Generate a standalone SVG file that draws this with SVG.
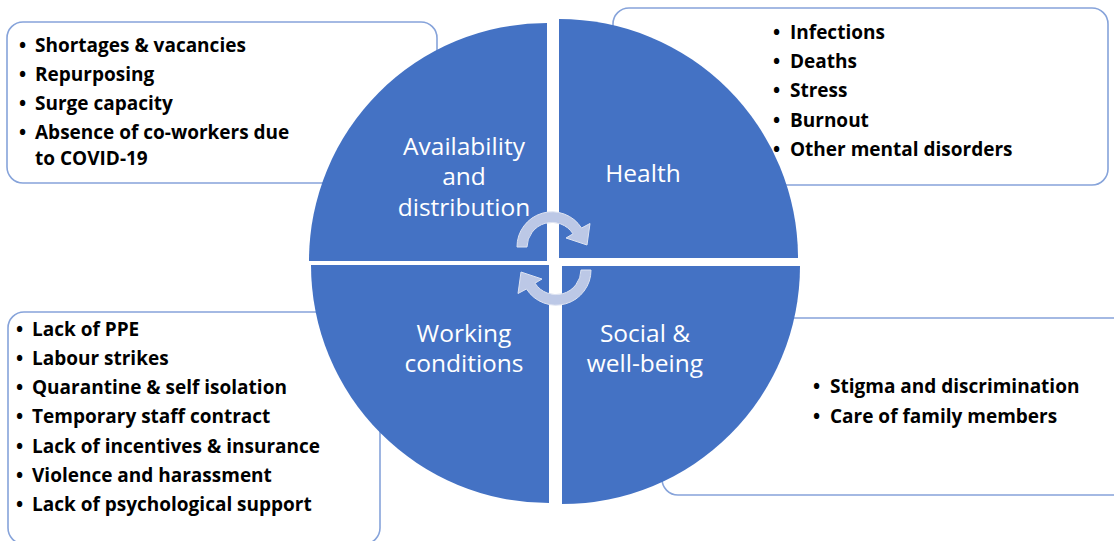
<svg xmlns="http://www.w3.org/2000/svg" width="1114" height="541" viewBox="0 0 1114 541">
<style>
.box{fill:#ffffff;stroke:#86a3da;stroke-width:1.6}
.q{fill:#4472c4}
.lbl{font-family:"Open Sans","Noto Sans",sans-serif;font-size:24.5px;fill:#ffffff;text-anchor:middle}
.it{font-family:"Open Sans","Noto Sans",sans-serif;font-size:19px;font-weight:bold;fill:#000000}
.cyc{fill:#bcc8e6;stroke:#dde3f2;stroke-width:1}
</style>
<rect width="1114" height="541" fill="#ffffff"/>
<g id="box-availability">
<rect class="box" x="7" y="22" width="430" height="161" rx="16"/>
<text class="it" x="19" y="52">•</text><text class="it" x="35" y="52">Shortages &amp; vacancies</text>
<text class="it" x="19" y="81">•</text><text class="it" x="35" y="81">Repurposing</text>
<text class="it" x="19" y="110">•</text><text class="it" x="35" y="110">Surge capacity</text>
<text class="it" x="19" y="139">•</text><text class="it" x="35" y="139">Absence of co-workers due</text>
<text class="it" x="35" y="165">to COVID-19</text>
</g>
<g id="box-health">
<rect class="box" x="613" y="8" width="495" height="177" rx="16"/>
</g>
<g id="box-working">
<rect class="box" x="8" y="312" width="372" height="232" rx="16"/>
</g>
<g id="box-social">
<rect class="box" x="662" y="318" width="470" height="177" rx="16"/>
</g>
<g id="q-availability">
<path class="q" d="M547,261 L309,261 A238,238 0 0 1 547,23 Z"/>
<text class="lbl" x="464" y="155">Availability</text>
<text class="lbl" x="464" y="185">and</text>
<text class="lbl" x="464" y="216">distribution</text>
</g>
<g id="q-health">
<path class="q" d="M559,258 L559,19 A239,239 0 0 1 798,258 Z"/>
<text class="lbl" x="643" y="182">Health</text>
</g>
<g id="q-working">
<path class="q" d="M549,265 L549,503 A238,238 0 0 1 311,265 Z"/>
<text class="lbl" x="464" y="342">Working</text>
<text class="lbl" x="464" y="372">conditions</text>
</g>
<g id="q-social">
<path class="q" d="M562,266 L800,266 A238,238 0 0 1 562,504 Z"/>
<text class="lbl" x="645" y="342">Social &amp;</text>
<text class="lbl" x="645" y="372">well-being</text>
</g>
<g id="health-items">
<text class="it" x="773" y="39">•</text><text class="it" x="790" y="39">Infections</text>
<text class="it" x="773" y="68">•</text><text class="it" x="790" y="68">Deaths</text>
<text class="it" x="773" y="97">•</text><text class="it" x="790" y="97">Stress</text>
<text class="it" x="773" y="127">•</text><text class="it" x="790" y="127">Burnout</text>
<text class="it" x="773" y="156">•</text><text class="it" x="790" y="156">Other mental disorders</text>
</g>
<g id="working-items">
<text class="it" x="16" y="336">•</text><text class="it" x="32" y="336">Lack of PPE</text>
<text class="it" x="16" y="365">•</text><text class="it" x="32" y="365">Labour strikes</text>
<text class="it" x="16" y="394">•</text><text class="it" x="32" y="394">Quarantine &amp; self isolation</text>
<text class="it" x="16" y="423">•</text><text class="it" x="32" y="423">Temporary staff contract</text>
<text class="it" x="16" y="453">•</text><text class="it" x="32" y="453">Lack of incentives &amp; insurance</text>
<text class="it" x="16" y="482">•</text><text class="it" x="32" y="482">Violence and harassment</text>
<text class="it" x="16" y="511">•</text><text class="it" x="32" y="511">Lack of psychological support</text>
</g>
<g id="social-items">
<text class="it" x="813" y="393">•</text><text class="it" x="830" y="393">Stigma and discrimination</text>
<text class="it" x="813" y="423">•</text><text class="it" x="830" y="423">Care of family members</text>
</g>
<g id="connectors">
<path class="cyc" d="M517,247 A35,35 0 0 1 581.5,228 L590,223.5 L587,245 L566,238 L573,233.8 A25,25 0 0 0 527,247 Z"/>
<path class="cyc" transform="rotate(180 554 258.5)" d="M517,247 A35,35 0 0 1 581.5,228 L590,223.5 L587,245 L566,238 L573,233.8 A25,25 0 0 0 527,247 Z"/>
</g>
</svg>
